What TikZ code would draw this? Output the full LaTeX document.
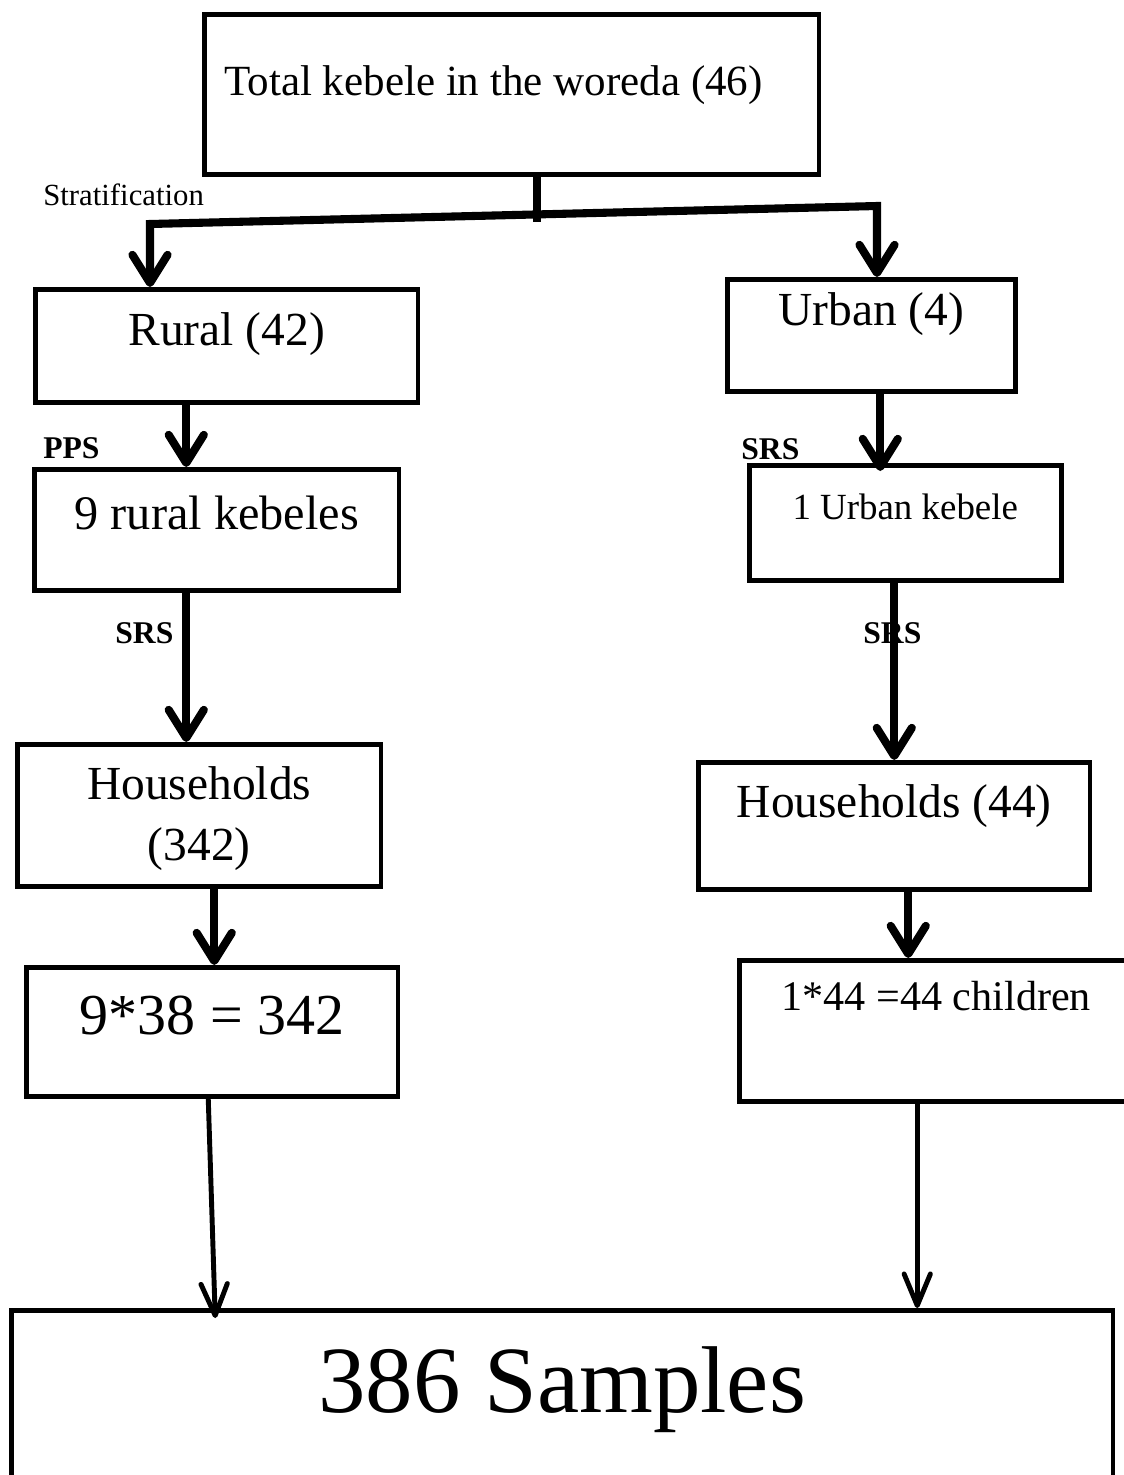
\documentclass[tikz,border=0pt]{standalone}
\usepackage{fontspec}
\setmainfont{Liberation Serif}
\usetikzlibrary{arrows.meta,positioning}

\tikzset{
  box/.style={draw, line width=2.6pt, inner sep=0pt, anchor=north west},
  tag/.style={font=\bfseries\fontsize{18}{20}\selectfont, inner sep=0pt, anchor=base west},
  flow/.style={line width=4.6pt, >={Straight Barb[length=16pt,width=20pt,round]}},
  thinflow/.style={line width=2.8pt, >={Straight Barb[length=18pt,width=15pt,round]}}
}

\begin{document}
\begin{tikzpicture}[x=0.02cm,y=-0.02cm]
    \useasboundingbox (0,0) rectangle (1124,1475);
    \node[box, text width=11.5cm, inner xsep=0.4cm, align=flush left, text height=1.62cm, text depth=1.58cm,
          font=\fontsize{24.5}{29}\selectfont] (total) at (202,12) {Total kebele in the woreda (46)};
    \node[box, minimum width=7.66cm, text height=1.12cm, text depth=1.14cm, font=\fontsize{27}{32}\selectfont] (rural) at (33,287) {Rural (42)};
    \node[box, minimum width=5.76cm, text height=0.92cm, text depth=1.32cm, font=\fontsize{27}{32}\selectfont] (urban) at (725,277) {Urban (4)};
    \node[box, minimum width=7.3cm, text height=1.2cm, text depth=1.22cm, font=\fontsize{27.5}{33}\selectfont] (ruralkeb) at (32,467) {9 rural kebeles};
    \node[box, minimum width=6.24cm, text height=1.08cm, text depth=1.22cm, font=\fontsize{21}{25}\selectfont] (urbankeb) at (747,463) {1 Urban kebele};
    \node[box, text width=7.28cm, align=center, text height=1.1cm, text depth=1.74cm,
          font=\fontsize{27}{34.6}\selectfont] (ruralhh) at (15,742) {Households\\(342)};
    \node[box, minimum width=7.84cm, text height=1.1cm, text depth=1.44cm, font=\fontsize{27}{32}\selectfont] (urbanhh) at (696,760) {Households (44)};
    \node[box, minimum width=7.44cm, text height=1.34cm, text depth=1.24cm, font=\fontsize{33}{38}\selectfont] (ruralcalc) at (24,965) {9*38 = 342};
    \node[box, minimum width=7.88cm, text height=1cm, text depth=1.82cm, font=\fontsize{24}{28}\selectfont] (urbancalc) at (737,958) {1*44 =44 children};
    \node[box, minimum width=22.04cm, text height=2.04cm, text depth=1.7cm, font=\fontsize{54}{60}\selectfont] (samples) at (9,1308) {386 Samples};

    % sampling labels
    \node[inner sep=0pt, anchor=base west, font=\fontsize{17.5}{20}\selectfont] (strat) at (43,205) {Stratification};
    \node[tag] (pps) at (43,458) {PPS};
    \node[tag] (srsrural) at (115,643) {SRS};
    \node[tag] (srsurban) at (741,459) {SRS};
    \node[tag] (srshh) at (863,643) {SRS};

    % split into strata
    \coordinate (stem) at (537,222);
    \coordinate (lcorner) at (150,224);
    \coordinate (rcorner) at (877,206);
    \draw[flow] (stem |- total.south) -- (stem);
    \draw[flow, <->] (lcorner |- rural.north) -- (lcorner) -- (rcorner) -- (rcorner |- urban.north);

    % rural branch
    \draw[flow, ->] ([xshift=-0.81cm]rural.south) -- ([xshift=-0.81cm]rural.south |- ruralkeb.north);
    \draw[flow, ->] ([xshift=-0.61cm]ruralkeb.south) -- ([xshift=-0.61cm]ruralkeb.south |- ruralhh.north);
    \draw[flow, ->] ([xshift=0.3cm]ruralhh.south) -- ([xshift=0.3cm]ruralhh.south |- ruralcalc.north);
    \draw[thinflow, ->] ([xshift=-0.08cm]ruralcalc.south) -- ([xshift=-6.94cm,yshift=-0.2cm]samples.north);

    % urban branch
    \draw[flow, ->] ([xshift=0.18cm]urban.south) -- ([xshift=0.18cm,yshift=-0.16cm]urban.south |- urbankeb.north);
    \draw[flow, ->] ([xshift=-0.22cm]urbankeb.south) -- ([xshift=-0.22cm]urbankeb.south |- urbanhh.north);
    \draw[flow, ->] ([xshift=0.28cm]urbanhh.south) -- ([xshift=0.28cm]urbanhh.south |- urbancalc.north);
    \draw[thinflow, ->] ([xshift=-0.38cm]urbancalc.south) -- ([xshift=-0.38cm]urbancalc.south |- samples.north);
\end{tikzpicture}
\end{document}
